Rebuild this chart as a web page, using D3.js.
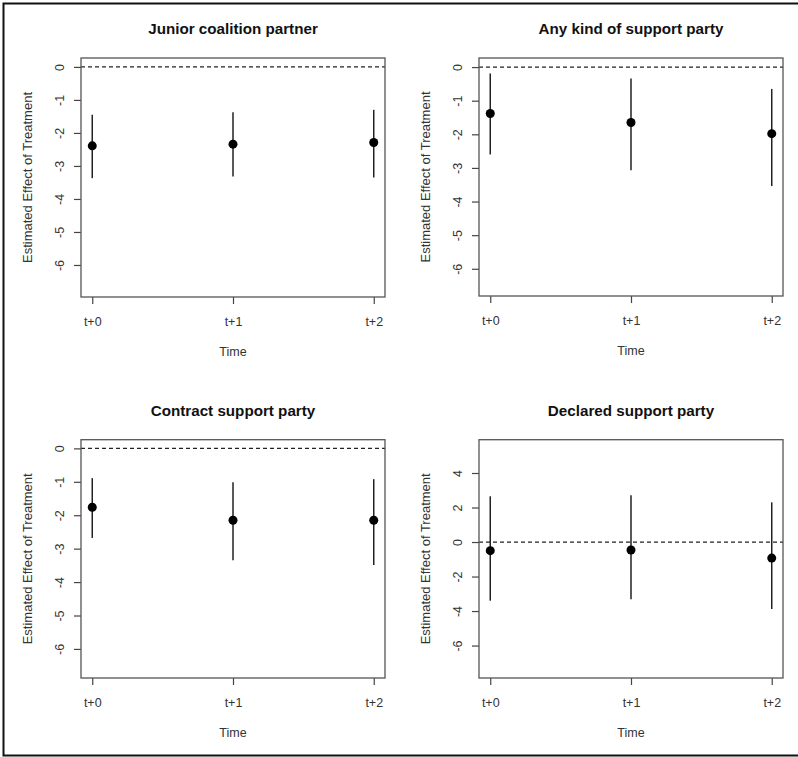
<!DOCTYPE html>
<html><head><meta charset="utf-8">
<script src="https://cdn.jsdelivr.net/npm/d3@7"></script>
<style>body{margin:0;background:#fff}svg{display:block}</style>
</head><body>
<svg id="chart" width="798" height="757"></svg>
<script>
const titles = ["Junior coalition partner","Any kind of support party","Contract support party","Declared support party"];
const timeLabels = ["t+0","t+1","t+2"];
const estimates = [[-2.39,-2.34,-2.29],[-1.38,-1.65,-1.98],[-1.76,-2.15,-2.15],[-0.50,-0.46,-0.93]];
const lowers = [[-3.37,-3.32,-3.35],[-2.60,-3.07,-3.54],[-2.68,-3.35,-3.49],[-3.40,-3.32,-3.88]];
const uppers = [[-1.45,-1.37,-1.30],[-0.19,-0.34,-0.65],[-0.89,-1.01,-0.92],[2.65,2.71,2.30]];
const yDomains = [[-6.97,0.27],[-6.81,0.27],[-6.87,0.26],[-7.88,5.93]];
const yTicks = [[0,-1,-2,-3,-4,-5,-6],[0,-1,-2,-3,-4,-5,-6],[0,-1,-2,-3,-4,-5,-6],[4,2,0,-2,-4,-6]];

const svg = d3.select("#chart");
const ink = "#222";
const font = "'Liberation Sans', Arial, sans-serif";

// outer frame
svg.append("rect").attr("x",3.5).attr("y",3.5).attr("width",800).attr("height",752)
  .attr("fill","none").attr("stroke","#111").attr("stroke-width",2);

const layout = [
  {ox:0, oy:0, top:58, bottom:297},
  {ox:398, oy:0, top:58, bottom:296},
  {ox:0, oy:378, top:61.7, bottom:300},
  {ox:398, oy:378, top:61.7, bottom:300}
];

titles.forEach((t,i)=>{
  const L = layout[i];
  const g = svg.append("g").attr("transform",`translate(${L.ox},${L.oy})`);
  const left=81, right=385;
  const xl = d3.scaleLinear().domain([-0.08,2.08]).range([left,right]);
  const xp = d => xl(timeLabels.indexOf(d));
  const y = d3.scaleLinear().domain(yDomains[i]).range([L.bottom,L.top]);

  // title
  g.append("text").attr("x",(left+right)/2).attr("y",L.top-24)
    .attr("text-anchor","middle").attr("font-family",font).attr("font-weight","bold")
    .attr("font-size",15.2).attr("fill","#111").text(t);

  // zero dashed line
  g.append("line").attr("x1",left).attr("x2",right).attr("y1",y(0)).attr("y2",y(0))
    .attr("stroke",ink).attr("stroke-width",1.2).attr("stroke-dasharray","4,3");

  // y axis
  const ya = d3.axisLeft(y).tickValues(yTicks[i]).tickSize(7).tickFormat(d3.format("d"));
  const yg = g.append("g").attr("transform",`translate(${left},0)`).call(ya);
  yg.select(".domain").remove();
  yg.selectAll(".tick line").attr("stroke","#444").attr("stroke-width",1.2);
  yg.selectAll(".tick text").attr("font-family",font).attr("font-size",12.5).attr("fill","#333")
    .attr("x",null).attr("dy",null).attr("text-anchor","middle")
    .attr("transform","translate(-17,0) rotate(-90)").attr("y",0)
    .text(d=> d<0 ? "-"+Math.abs(d) : d);

  // x axis
  const xa = d3.axisBottom(xl).tickValues([0,1,2]).tickSize(7).tickFormat(d=>timeLabels[d]);
  const xg = g.append("g").attr("transform",`translate(0,${L.bottom})`).call(xa);
  xg.select(".domain").remove();
  xg.selectAll(".tick line").attr("stroke","#444").attr("stroke-width",1.2);
  xg.selectAll(".tick text").attr("font-family",font).attr("font-size",12.5).attr("fill","#333")
    .attr("y",20).attr("dy","0.71em");

  // box
  g.append("rect").attr("x",left).attr("y",L.top).attr("width",right-left).attr("height",L.bottom-L.top)
    .attr("fill","none").attr("stroke","#555").attr("stroke-width",1.3);

  // axis labels
  g.append("text").attr("x",(left+right)/2).attr("y",L.bottom+59)
    .attr("text-anchor","middle").attr("font-family",font).attr("font-size",12.5).attr("fill","#333").text("Time");
  g.append("text").attr("transform",`translate(32,${(L.top+L.bottom)/2}) rotate(-90)`)
    .attr("text-anchor","middle").attr("font-family",font).attr("font-size",13).attr("fill","#333")
    .text("Estimated Effect of Treatment");

  // error bars and points
  const data = timeLabels.map((d,j)=>({t:d, est:estimates[i][j], lo:lowers[i][j], hi:uppers[i][j]}));
  g.selectAll(".ci").data(data).enter().append("line")
    .attr("x1",d=>xp(d.t)).attr("x2",d=>xp(d.t)).attr("y1",d=>y(d.lo)).attr("y2",d=>y(d.hi))
    .attr("stroke",ink).attr("stroke-width",1.5);
  g.selectAll(".pt").data(data).enter().append("circle")
    .attr("cx",d=>xp(d.t)).attr("cy",d=>y(d.est)).attr("r",4.5).attr("fill","#000");
});
</script>
</body></html>
